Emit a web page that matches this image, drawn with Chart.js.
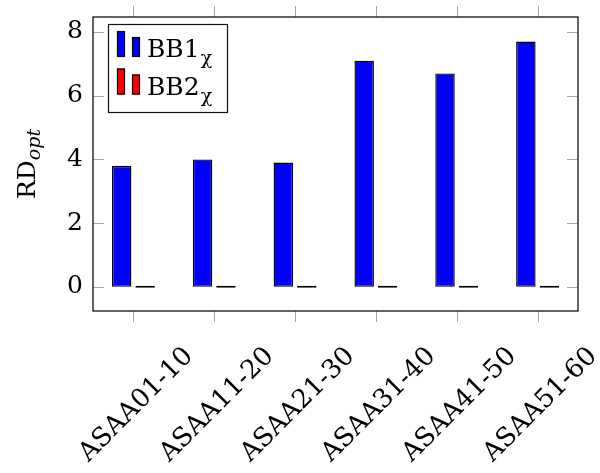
<!DOCTYPE html>
<html>
<head>
<meta charset="utf-8">
<script src="https://cdn.jsdelivr.net/npm/chart.js@4/dist/chart.umd.min.js"></script>
<style>
  html, body { margin: 0; padding: 0; background: #fff; }
  canvas { display: block; }
</style>
</head>
<body>
<canvas id="chart" width="600" height="473"></canvas>
<script>
// Benchmark groups and per-group RD_opt values
const categories = ['ASAA01-10', 'ASAA11-20', 'ASAA21-30', 'ASAA31-40', 'ASAA41-50', 'ASAA51-60'];
const bb1Values = [3.8, 4.0, 3.9, 7.1, 6.7, 7.7];
const bb2Values = [0, 0, 0, 0, 0, 0];
const seriesNames = ['BB1', 'BB2'];
const seriesSubscript = 'χ';
const yTickValues = [0, 2, 4, 6, 8];
const yLabelMain = 'RD';
const yLabelSub = 'opt';

const SERIF = '"DejaVu Serif", "Liberation Serif", serif';
Chart.defaults.font.family = SERIF;

// Tick marks, frame, rotated category labels, axis title and the inset legend
const decorations = {
  id: 'decorations',
  afterDatasetsDraw(chart) {
    const { ctx, chartArea: a, scales: { x, y } } = chart;
    ctx.save();

    // short tick marks: y ticks inside on both sides, x ticks outside top and bottom
    ctx.strokeStyle = '#a6a6a6';
    ctx.lineWidth = 1;
    ctx.beginPath();
    y.ticks.forEach(t => {
      const py = Math.round(y.getPixelForValue(t.value)) + 0.5;
      ctx.moveTo(a.left, py); ctx.lineTo(a.left + 11, py);
      ctx.moveTo(a.right, py); ctx.lineTo(a.right - 11, py);
    });
    x.ticks.forEach((t, i) => {
      const px = Math.round(x.getPixelForTick(i)) + 0.5;
      ctx.moveTo(px, a.bottom); ctx.lineTo(px, a.bottom + 11);
      ctx.moveTo(px, a.top); ctx.lineTo(px, a.top - 11);
    });
    ctx.stroke();

    // axis frame
    ctx.strokeStyle = '#111';
    ctx.lineWidth = 1.3;
    ctx.strokeRect(a.left, a.top, a.right - a.left, a.bottom - a.top);

    // category labels, rotated 45 degrees and centred under each tick
    ctx.fillStyle = '#000';
    ctx.font = '26px ' + SERIF;
    ctx.textAlign = 'center';
    ctx.textBaseline = 'middle';
    x.getLabels().forEach((lbl, i) => {
      const px = x.getPixelForTick(i);
      ctx.save();
      ctx.translate(px + 3, 405);
      ctx.rotate(-Math.PI / 4);
      ctx.fillText(lbl, 0, 0);
      ctx.restore();
    });

    // y axis title with italic subscript
    ctx.save();
    ctx.textAlign = 'left';
    ctx.textBaseline = 'alphabetic';
    ctx.translate(35, (a.top + a.bottom) / 2);
    ctx.rotate(-Math.PI / 2);
    const mainFont = '25px ' + SERIF;
    const subFont = 'italic 19px ' + SERIF;
    ctx.font = mainFont;
    const wMain = ctx.measureText(yLabelMain).width;
    ctx.font = subFont;
    const wSub = ctx.measureText(yLabelSub).width;
    const start = -(wMain + wSub) / 2;
    ctx.font = mainFont;
    ctx.fillText(yLabelMain, start, 0);
    ctx.font = subFont;
    ctx.fillText(yLabelSub, start + wMain, 5);
    ctx.restore();

    // legend box in the upper-left corner of the plot
    const lx = 108, ly = 24, lw = 119, lh = 88;
    ctx.fillStyle = '#fff';
    ctx.fillRect(lx, ly, lw, lh);
    ctx.strokeStyle = '#111';
    ctx.lineWidth = 1.2;
    ctx.strokeRect(lx + 0.5, ly + 0.5, lw, lh);

    chart.data.datasets.forEach((ds, i) => {
      const base = ly + 33 + i * 37.5;
      ctx.fillStyle = ds.backgroundColor;
      ctx.strokeStyle = '#000';
      ctx.lineWidth = 1.2;
      ctx.fillRect(lx + 9, base - 26, 8, 26);
      ctx.strokeRect(lx + 9.5, base - 25.5, 7, 25);
      ctx.fillRect(lx + 24, base - 20, 8, 20);
      ctx.strokeRect(lx + 24.5, base - 19.5, 7, 19);

      ctx.fillStyle = '#000';
      ctx.textAlign = 'left';
      ctx.textBaseline = 'alphabetic';
      ctx.font = '25px ' + SERIF;
      ctx.fillText(seriesNames[i], lx + 39, base);
      const w = ctx.measureText(seriesNames[i]).width;
      ctx.font = '19px ' + SERIF;
      ctx.fillText(seriesSubscript, lx + 39 + w + 1, base + 7);
    });

    ctx.restore();
  }
};

new Chart(document.getElementById('chart'), {
  type: 'bar',
  data: {
    labels: categories,
    datasets: [
      {
        label: seriesNames[0] + seriesSubscript,
        data: bb1Values,
        backgroundColor: '#0000ff',
        borderColor: '#000',
        borderWidth: 1.4,
        borderSkipped: false,
        categoryPercentage: 0.58,
        barPercentage: 0.83
      },
      {
        label: seriesNames[1] + seriesSubscript,
        data: bb2Values,
        backgroundColor: '#ff0000',
        borderColor: '#000',
        borderWidth: 1.4,
        borderSkipped: false,
        minBarLength: 2,
        categoryPercentage: 0.58,
        barPercentage: 0.83
      }
    ]
  },
  options: {
    responsive: false,
    animation: false,
    layout: { padding: { top: 15, right: 22, left: 0, bottom: 0 } },
    plugins: {
      legend: { display: false },
      tooltip: { enabled: false }
    },
    scales: {
      x: {
        grid: { display: false },
        border: { display: false },
        ticks: { display: false },
        afterFit(scale) { scale.height = 162; }
      },
      y: {
        min: -0.76,
        max: 8.47,
        afterBuildTicks(scale) { scale.ticks = yTickValues.map(v => ({ value: v })); },
        grid: { display: false },
        border: { display: false },
        ticks: { color: '#000', font: { size: 25 }, padding: 2 },
        afterFit(scale) { scale.width = 93; }
      }
    }
  },
  plugins: [decorations]
});
</script>
</body>
</html>
